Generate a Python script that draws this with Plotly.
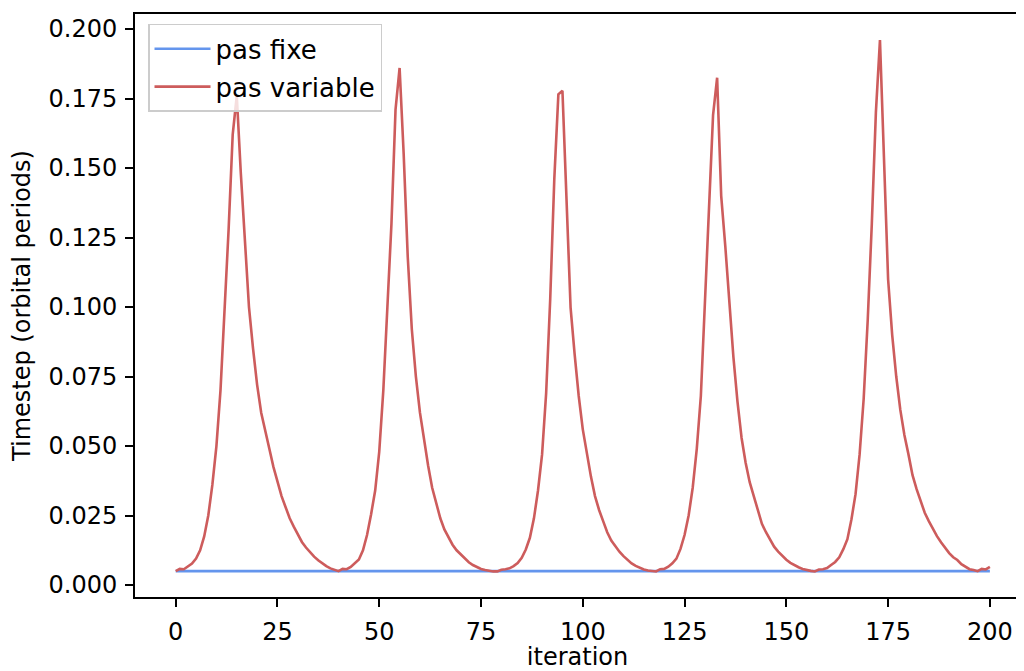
import plotly.graph_objects as go

iterations = list(range(0, 201))

pas_variable = [
    0.0050, 0.0058, 0.0057, 0.0066, 0.0077, 0.0095, 0.0125, 0.0175, 0.0250, 0.0360,
    0.0500, 0.0700, 0.0970, 0.1280, 0.1620, 0.1760, 0.1480, 0.1220, 0.1000, 0.0850,
    0.0720, 0.0620, 0.0550, 0.0490, 0.0425, 0.0370, 0.0320, 0.0280, 0.0240, 0.0210,
    0.0180, 0.0155, 0.0135, 0.0118, 0.0102, 0.0089, 0.0078, 0.0068, 0.0060, 0.0054,
    0.0050, 0.0058, 0.0057, 0.0065, 0.0077, 0.0092, 0.0125, 0.0180, 0.0255, 0.0340,
    0.0480, 0.0700, 0.1000, 0.1300, 0.1710, 0.1860, 0.1550, 0.1180, 0.0920, 0.0750,
    0.0620, 0.0520, 0.0430, 0.0350, 0.0290, 0.0240, 0.0200, 0.0170, 0.0145, 0.0125,
    0.0110, 0.0095, 0.0082, 0.0072, 0.0064, 0.0058, 0.0054, 0.0051, 0.0049, 0.0049,
    0.0055, 0.0057, 0.0060, 0.0068, 0.0079, 0.0098, 0.0128, 0.0170, 0.0240, 0.0340,
    0.0470, 0.0690, 0.1030, 0.1460, 0.1765, 0.1778, 0.1390, 0.0998, 0.0830, 0.0680,
    0.0560, 0.0470, 0.0390, 0.0320, 0.0270, 0.0230, 0.0190, 0.0160, 0.0138, 0.0120,
    0.0104, 0.0090, 0.0078, 0.0069, 0.0062, 0.0056, 0.0052, 0.0050, 0.0049, 0.0057,
    0.0058, 0.0066, 0.0078, 0.0095, 0.0130, 0.0180, 0.0250, 0.0350, 0.0490, 0.0680,
    0.1000, 0.1370, 0.1690, 0.1825, 0.1400, 0.1220, 0.1000, 0.0820, 0.0660, 0.0530,
    0.0440, 0.0370, 0.0320, 0.0270, 0.0220, 0.0190, 0.0163, 0.0138, 0.0120, 0.0104,
    0.0091, 0.0080, 0.0071, 0.0064, 0.0058, 0.0054, 0.0051, 0.0049, 0.0056, 0.0057,
    0.0061, 0.0072, 0.0083, 0.0100, 0.0129, 0.0165, 0.0237, 0.0327, 0.0470, 0.0670,
    0.0955, 0.1300, 0.1700, 0.1960, 0.1500, 0.1100, 0.0900, 0.0750, 0.0630, 0.0540,
    0.0470, 0.0395, 0.0345, 0.0300, 0.0260, 0.0230, 0.0200, 0.0176, 0.0154, 0.0133,
    0.0115, 0.0100, 0.0090, 0.0075, 0.0065, 0.0057, 0.0054, 0.0050, 0.0058, 0.0056,
    0.0065,
]

pas_fixe = [0.005] * len(iterations)

x_ticks = [0, 25, 50, 75, 100, 125, 150, 175, 200]
y_ticks = [0.000, 0.025, 0.050, 0.075, 0.100, 0.125, 0.150, 0.175, 0.200]
y_tick_labels = [f"{v:.3f}" for v in y_ticks]

FONT = "DejaVu Sans, Verdana, sans-serif"
FS = 24

fig = go.Figure()
fig.add_trace(go.Scatter(x=iterations, y=pas_fixe, mode="lines", name="pas fixe",
                         legendgroup="fixe",
                         line=dict(color="#6495ED", width=2.6)))
fig.add_trace(go.Scatter(x=iterations, y=pas_variable, mode="lines", name="pas variable",
                         legendgroup="variable",
                         line=dict(color="#CD5C5C", width=2.6)))

axis_common = dict(showline=True, linecolor="black", linewidth=1.9, mirror=True,
                   ticks="outside", ticklen=8, tickwidth=1.9, tickcolor="black",
                   showgrid=False, zeroline=False,
                   tickfont=dict(family=FONT, size=FS, color="black"))

fig.update_layout(
    width=1016, height=663,
    margin=dict(l=127, r=2, t=6, b=73),
    paper_bgcolor="white", plot_bgcolor="white",
    font=dict(family=FONT, size=FS, color="black"),
    xaxis=dict(range=[-10, 207.4], tickvals=x_ticks, ticklabelstandoff=4,
               title=dict(text="iteration", standoff=6,
                          font=dict(family=FONT, size=FS)),
               **axis_common),
    yaxis=dict(range=[-0.0043, 0.2054], tickvals=y_ticks, ticktext=y_tick_labels,
               ticklabelstandoff=3,
               title=dict(text="Timestep (orbital periods)", standoff=12,
                          font=dict(family=FONT, size=FS)),
               **axis_common),
    legend=dict(x=0.0147, y=0.983, xanchor="left", yanchor="top",
                bgcolor="rgba(255,255,255,0.8)", bordercolor="#cccccc", borderwidth=1.5,
                font=dict(family=FONT, size=26), itemwidth=56, tracegroupgap=1),
    showlegend=True,
)

fig.write_html("out.html")
